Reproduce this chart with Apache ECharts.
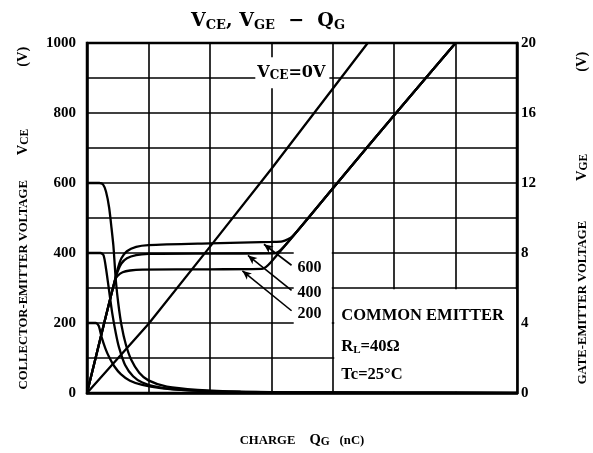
<!DOCTYPE html>
<html><head><meta charset="utf-8">
<script src="https://cdn.jsdelivr.net/npm/echarts@6/dist/echarts.min.js"></script>
<style>html,body{margin:0;padding:0;background:#fff;width:593px;height:453px;overflow:hidden}#c{width:593px;height:453px}</style>
</head><body><div id="c"></div>
<script>
// ---- data (x in grid divisions of gate charge; the original shows no numeric Qg ticks) ----
const qTicks = [0, 1, 2, 3, 4, 5, 6, 7];
const vceTicks = [0, 200, 400, 600, 800, 1000];
const vgeTicks = [0, 4, 8, 12, 16, 20];

// collector-emitter voltage curves (left axis, V)
const vce600 = [[0,600],[0.2,600],[0.26,596],[0.31,575],[0.36,530],[0.4,470],[0.43,420],[0.45,370],[0.47,320],[0.51,255],[0.56,195],[0.63,140],[0.72,95],[0.85,58],[1.0,36],[1.3,18],[1.8,9],[2.5,4],[3.5,2],[5,1],[7,0.5]];
const vce400 = [[0,400],[0.22,400],[0.27,393],[0.31,355],[0.35,305],[0.41,229],[0.47,170],[0.52,131],[0.62,80],[0.75,48],[0.9,30],[1.1,19],[1.4,11],[2,5],[3,2],[4.5,1],[7,0.5]];
const vce200 = [[0,200],[0.14,200],[0.19,192],[0.24,158],[0.3,127],[0.36,103],[0.45,75],[0.55,54],[0.7,35],[0.9,23],[1.2,14],[1.6,8],[2.2,4],[3,2],[4.5,1],[7,0.5]];

// gate-emitter voltage curves (right axis, V)
const vge600 = [[0,0],[0.28,4.0],[0.456,6.46],[0.5,7.1],[0.56,7.7],[0.65,8.1],[0.8,8.35],[1,8.45],[2,8.55],[3,8.63],[3.18,8.66],[3.35,8.97],[4,11.69],[5,15.87],[6,20]];
const vge400 = [[0,0],[0.28,4.0],[0.456,6.46],[0.5,6.95],[0.56,7.4],[0.65,7.7],[0.8,7.88],[1,7.95],[2,7.97],[3.05,7.98],[3.2,8.34],[4,11.69],[5,15.87],[6,20]];
const vge200 = [[0,0],[0.28,4.0],[0.456,6.46],[0.5,6.7],[0.58,6.9],[0.7,7.0],[0.9,7.05],[2,7.07],[2.85,7.09],[3.0,7.5],[4,11.69],[5,15.87],[6,20]];
const vgeVce0 = [[0,0],[1,3.94],[2,8.35],[3,12.8],[4.57,20]];

// annotation pointers (label, from, to) in data units of right axis
const pointerLabels = ['600', '400', '200'];
const pointerFrom = [[3.33,7.3],[3.33,5.87],[3.33,4.7]];
const pointerTo = [[2.88,8.5],[2.62,7.86],[2.53,6.98]];

// ---- chart ----
const SERIF = 'Liberation Serif';
const WIDE = 'DejaVu Serif';
const chart = echarts.init(document.getElementById('c'), null, {renderer: 'canvas', width: 593, height: 453});

const lineSeries = (data, yIdx, extra) => Object.assign({
  type: 'line', data, yAxisIndex: yIdx, showSymbol: false, symbol: 'none',
  smooth: 0.25, z: 3, silent: true,
  lineStyle: {color: '#000', width: 2.3}
}, extra || {});

const nameRich = {
  n: {fontFamily: SERIF, fontWeight: 'bold', fontSize: 12.7, color: '#000', lineHeight: 15},
  v: {fontFamily: SERIF, fontWeight: 'bold', fontSize: 14.5, color: '#000', lineHeight: 15},
  s: {fontFamily: SERIF, fontWeight: 'bold', fontSize: 11.5, color: '#000', lineHeight: 11, verticalAlign: 'bottom'}
};

const option = {
  animation: false,
  backgroundColor: '#fff',
  title: {
    text: '{v|V}{s|CE}{v|, V}{s|GE}{v|  −  Q}{s|G}',
    left: 186, top: 5,
    textStyle: {
      rich: {
        v: {fontFamily: WIDE, fontSize: 19, color: '#000', lineHeight: 22},
        s: {fontFamily: WIDE, fontSize: 13, color: '#000', lineHeight: 13, verticalAlign: 'bottom'}
      }
    }
  },
  grid: {left: 87, right: 76, top: 43, bottom: 60, containLabel: false, outerBoundsMode: 'none',
    show: true, borderColor: '#000', borderWidth: 2.5, backgroundColor: 'transparent'},
  xAxis: {
    type: 'value', min: 0, max: 7, interval: 1,
    axisLine: {show: true, lineStyle: {color: '#000', width: 2.5}},
    axisTick: {show: false},
    axisLabel: {show: false},
    splitLine: {show: true, lineStyle: {color: '#000', width: 1.6}},
    name: '{n|CHARGE}{g1| }{v|Q}{s|G}{g2| }{n|(nC)}',
    nameLocation: 'middle', nameGap: 40,
    nameTextStyle: {
      rich: Object.assign({}, nameRich, {g1: {width: 14}, g2: {width: 10}})
    }
  },
  yAxis: [
    {
      type: 'value', min: 0, max: 1000, interval: 100, position: 'left',
      axisLine: {show: true, lineStyle: {color: '#000', width: 2.5}},
      axisTick: {show: false},
      splitLine: {show: true, lineStyle: {color: '#000', width: 1.6}},
      axisLabel: {
        margin: 11, color: '#000', fontFamily: SERIF, fontWeight: 'bold', fontSize: 15,
        formatter: v => vceTicks.includes(v) ? String(v) : ''
      },
      name: '{n|COLLECTOR-EMITTER VOLTAGE}{g1| }{v|V}{s|CE}{g2| }{v|(V)}',
      nameLocation: 'middle', nameRotate: 90, nameGap: 56,
      nameTextStyle: {
        rich: Object.assign({}, nameRich, {g1: {width: 25}, g2: {width: 62}})
      }
    },
    {
      type: 'value', min: 0, max: 20, interval: 2, position: 'right',
      axisLine: {show: true, lineStyle: {color: '#000', width: 2.5}},
      axisTick: {show: false},
      splitLine: {show: false},
      axisLabel: {
        margin: 4, color: '#000', fontFamily: SERIF, fontWeight: 'bold', fontSize: 15,
        formatter: v => vgeTicks.includes(v) ? String(v) : ''
      },
      name: '{n|GATE-EMITTER VOLTAGE}{g1| }{v|V}{s|GE}{g2| }{v|(V)}',
      nameLocation: 'middle', nameRotate: 90, nameGap: 58,
      nameTextStyle: {
        rich: Object.assign({}, nameRich, {g1: {width: 40}, g2: {width: 82}})
      }
    }
  ],
  series: [
    lineSeries(vce600, 0),
    lineSeries(vce400, 0),
    lineSeries(vce200, 0),
    lineSeries(vgeVce0, 1, {smooth: false}),
    lineSeries(vge600, 1),
    lineSeries(vge400, 1),
    lineSeries(vge200, 1, {
      markLine: {
        silent: true, animation: false,
        symbol: ['none', 'arrow'], symbolSize: [6, 9],
        label: {show: false},
        lineStyle: {color: '#000', width: 1.6, type: 'solid'},
        data: pointerFrom.map((f, i) => [{coord: f}, {coord: pointerTo[i]}])
      }
    })
  ]
};
chart.setOption(option);

// ---- layout helpers derived from the axes ----
const P = (q, v) => chart.convertToPixel({seriesIndex: 4}, [q, v]);
const rectFrom = (a, b) => {
  const p1 = P(a[0], a[1]), p2 = P(b[0], b[1]);
  return {x: Math.min(p1[0], p2[0]), y: Math.min(p1[1], p2[1]), width: Math.abs(p2[0]-p1[0]), height: Math.abs(p2[1]-p1[1])};
};
const graphics = [];
graphics.push({type: 'rect', z: 1, silent: true, shape: rectFrom([3.365, 8.45], [3.985, 3.4]), style: {fill: '#fff'}});
graphics.push({type: 'rect', z: 1, silent: true, shape: rectFrom([4.025, 5.93], [6.985, 0.07]), style: {fill: '#fff'}});
pointerLabels.forEach((t, i) => {
  const p = P(pointerFrom[i][0], pointerFrom[i][1]);
  graphics.push({type: 'text', z: 5, silent: true, x: p[0] + 6, y: p[1] + 3,
    style: {text: t, fontFamily: SERIF, fontWeight: 'bold', fontSize: 16, fill: '#000', verticalAlign: 'middle', align: 'left'}});
});
{
  const p = P(2.74, 18.3);
  graphics.push({type: 'text', z: 1, silent: true, x: p[0], y: p[1],
    style: {
      text: '{v|V}{s|CE}{v|=0V}', backgroundColor: '#fff', padding: [6, 4, 6, 2], verticalAlign: 'middle', align: 'left',
      rich: {
        v: {fontFamily: WIDE, fontWeight: 'bold', fontSize: 16, fill: '#000', lineHeight: 19},
        s: {fontFamily: WIDE, fontWeight: 'bold', fontSize: 12, fill: '#000', lineHeight: 12, verticalAlign: 'bottom'}
      }
    }});
}
const boxLines = ['{b|COMMON EMITTER}', '{b|R}{s|L}{b|=40Ω}', '{b|Tc=25°C}'];
const boxY = [4.4, 2.65, 1.05];
boxLines.forEach((t, i) => {
  const p = P(4.14, boxY[i]);
  graphics.push({type: 'text', z: 5, silent: true, x: p[0], y: p[1],
    style: {text: t, verticalAlign: 'middle', align: 'left',
      rich: {
        b: {fontFamily: SERIF, fontWeight: 'bold', fontSize: 16.5, fill: '#000', lineHeight: 18},
        s: {fontFamily: SERIF, fontWeight: 'bold', fontSize: 11, fill: '#000', lineHeight: 11, verticalAlign: 'bottom'}
      }}});
});
chart.setOption({graphic: {elements: graphics}});
</script>
</body></html>
